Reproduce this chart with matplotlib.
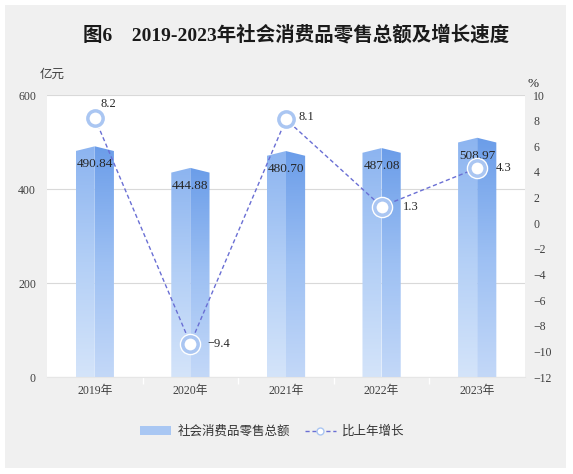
import numpy as np
import matplotlib
matplotlib.use("Agg")
import matplotlib.pyplot as plt
from matplotlib.colors import LinearSegmentedColormap
from matplotlib.patches import Polygon, Patch, Rectangle
from matplotlib.lines import Line2D

plt.rcParams['font.family'] = ['Liberation Serif', 'Noto Sans CJK SC']
plt.rcParams['axes.unicode_minus'] = True

# data
years = ['2019年', '2020年', '2021年', '2022年', '2023年']
sales = [490.84, 444.88, 480.70, 487.08, 508.97]
growth = [8.2, -9.4, 8.1, 1.3, 4.3]
left_ticks = [0, 200, 400, 600]
right_ticks = list(range(-12, 11, 2))

bg = '#f0f0f0'
fig = plt.figure(figsize=(5.73, 4.74), dpi=100, facecolor='white')
# gray panel inside a thin white border
fig.patches.append(Rectangle((5 / 573, 6 / 474), 561 / 573, 463 / 474,
                             transform=fig.transFigure, facecolor=bg,
                             edgecolor='none', zorder=-10))

ax = fig.add_axes([47 / 573, 97 / 474, 478 / 573, 282 / 474])
ax.set_facecolor('white')

left_cmap = LinearSegmentedColormap.from_list('lf', ['#d4e4fa', '#b3cff6', '#8cb4f0'])
right_cmap = LinearSegmentedColormap.from_list('rf', ['#c3d8f8', '#9dc0f3', '#6b9de9'])

x = np.arange(len(years))
w = 0.4
roof = 10
grad = np.linspace(0, 1, 256).reshape(-1, 1)
for xi, h in zip(x, sales):
    faces = [
        ([(xi - w / 2, 0), (xi - w / 2, h - roof), (xi, h), (xi, 0)], left_cmap, xi - w / 2, xi),
        ([(xi, 0), (xi, h), (xi + w / 2, h - roof), (xi + w / 2, 0)], right_cmap, xi, xi + w / 2),
    ]
    for pts, cmap, x0, x1 in faces:
        poly = Polygon(pts, closed=True, facecolor='none', edgecolor='none')
        ax.add_patch(poly)
        im = ax.imshow(grad, cmap=cmap, extent=[x0, x1, 0, h], origin='lower',
                       aspect='auto', zorder=2)
        im.set_clip_path(poly)
    ax.annotate(f'{h:.2f}', (xi, h), xytext=(0, -13), textcoords='offset points',
                ha='center', va='center', fontsize=9.5, color='#262626', zorder=5)

ax.set_xlim(-0.5, len(years) - 0.5)
ax.set_ylim(0, 600)
ax.set_yticks(left_ticks)
ax.yaxis.grid(True, color='#d9d9d9', linewidth=0.8)
ax.set_axisbelow(True)
ax.set_xticks(x)
ax.set_xticklabels(years)
ax.set_xticks(x[:-1] + 0.5, minor=True)
ax.tick_params(axis='x', which='major', length=0, pad=6, labelsize=8.5, labelcolor='#404040')
ax.tick_params(axis='x', which='minor', length=5, color='white', width=1)
ax.tick_params(axis='y', length=0, pad=8, labelsize=8.5, labelcolor='#404040')
for s in ['top', 'left', 'right']:
    ax.spines[s].set_visible(False)
ax.spines['bottom'].set_color('#e6e6e6')

ax2 = ax.twinx()
ax2.set_ylim(-12, 10)
ax2.set_yticks(right_ticks)
ax2.tick_params(axis='y', length=0, pad=6, labelsize=8.5, labelcolor='#404040')
for s in ax2.spines.values():
    s.set_visible(False)
ax2.plot(x, growth, linestyle=(0, (3, 2)), color='#6a6fd4', linewidth=1, zorder=3)
ax2.plot(x, growth, linestyle='none', marker='o', markersize=14,
         markerfacecolor='none', markeredgecolor='white', markeredgewidth=1.5, zorder=4)
ax2.plot(x, growth, linestyle='none', marker='o', markersize=11,
         markerfacecolor='white', markeredgecolor='#aac6f2', markeredgewidth=2.5, zorder=5)

offsets = [(4, 10), (12, 0), (9, 2), (15, 0), (13, 0)]
for xi, g, off in zip(x, growth, offsets):
    ax2.annotate(f'{g:.1f}'.replace('-', '\u2212'), (xi, g), xytext=off,
                 textcoords='offset points', ha='left', va='center',
                 fontsize=9, color='#262626', zorder=6)

fig.text(0.517, 0.928, '图6　2019-2023年社会消费品零售总额及增长速度',
         ha='center', va='center', fontsize=14, fontweight='bold', color='#1a1a1a')
fig.text(40 / 573, 1 - 75 / 474, '亿元', ha='left', va='center', fontsize=9, color='#404040')
fig.text(527 / 573, 1 - 84 / 474, '%', ha='left', va='center', fontsize=9.5, color='#262626')

handles = [Patch(facecolor='#a9c7f3', edgecolor='none'),
           Line2D([0], [0], linestyle=(0, (3, 2)), color='#6a6fd4', linewidth=1,
                  marker='o', markersize=5, markerfacecolor='white',
                  markeredgecolor='#aac6f2', markeredgewidth=1)]
fig.legend(handles, ['社会消费品零售总额', '比上年增长'], loc='center',
           bbox_to_anchor=(0.475, 1 - 432 / 474), ncol=2, frameon=False,
           fontsize=9, handlelength=2.5, handleheight=0.7, columnspacing=1.2,
           handletextpad=0.5, labelcolor='#333333')

fig.savefig('out.png', dpi=100, facecolor='white')
